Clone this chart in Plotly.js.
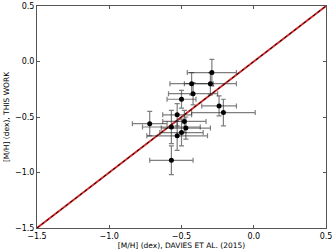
<!DOCTYPE html>
<html><head><meta charset="utf-8">
<script src="https://cdn.plot.ly/plotly-3.0.1.min.js"></script>
<style>html,body{margin:0;padding:0;background:#fff}#plot{width:334px;height:250px}</style>
</head><body><div id="plot"></div>
<script>
// [M/H] values
const daviesMH   = [-0.29, -0.43, -0.30, -0.42, -0.50, -0.24, -0.21, -0.72, -0.53, -0.48, -0.57, -0.47, -0.50, -0.53, -0.57];
const thisWorkMH = [-0.10, -0.20, -0.20, -0.29, -0.34, -0.40, -0.46, -0.56, -0.48, -0.54, -0.59, -0.60, -0.64, -0.67, -0.89];
const daviesErr  = [0.17, 0.15, 0.18, 0.17, 0.10, 0.12, 0.22, 0.12, 0.10, 0.15, 0.20, 0.17, 0.15, 0.21, 0.15];
const thisWorkErr= [0.12, 0.10, 0.10, 0.10, 0.08, 0.09, 0.12, 0.11, 0.10, 0.10, 0.15, 0.10, 0.12, 0.13, 0.13];
const oneToOne   = [-1.5, 0.5];
const tickVals   = [-1.5, -1.0, -0.5, 0.0, 0.5];
const tickText   = ['\u22121.5', '\u22121.0', '\u22120.5', '0.0', '0.5'];

const errStyle = {type:'data', visible:true, color:'rgba(40,40,40,0.6)', thickness:1.2, width:2.5};
const traces = [
  {x: oneToOne, y: oneToOne, mode:'lines', line:{color:'#d62728', width:1.8}, hoverinfo:'skip'},
  {x: oneToOne, y: oneToOne, mode:'lines', line:{color:'#000', width:1, dash:'3px,3px'}, hoverinfo:'skip'},
  {x: daviesMH, y: thisWorkMH, mode:'markers', marker:{color:'#000', size:5},
   error_x: Object.assign({array: daviesErr}, errStyle),
   error_y: Object.assign({array: thisWorkErr}, errStyle)}
];
const axisBase = {range:[-1.5,0.5], tickvals:tickVals, ticktext:tickText, ticks:'inside', ticklen:3, tickcolor:'#555',
  showline:true, linecolor:'#555', linewidth:1, mirror:'allticks', showgrid:false, zeroline:false,
  tickfont:{family:'DejaVu Sans', size:8, color:'#000'}};
const layout = {
  width:334, height:250, showlegend:false,
  margin:{l:37, r:8, t:6, b:22},
  paper_bgcolor:'#fff', plot_bgcolor:'#fff',
  xaxis: Object.assign({}, axisBase, {title:{text:'[M/H] (dex), DAVIES ET AL. (2015)', font:{family:'DejaVu Sans', size:7.5, color:'#000'}, standoff:1}}),
  yaxis: Object.assign({}, axisBase, {title:{text:'[M/H] (dex), THIS WORK', font:{family:'DejaVu Sans', size:7.5, color:'#000'}, standoff:4}})
};
Plotly.newPlot('plot', traces, layout, {staticPlot:true, displayModeBar:false});
</script></body></html>
